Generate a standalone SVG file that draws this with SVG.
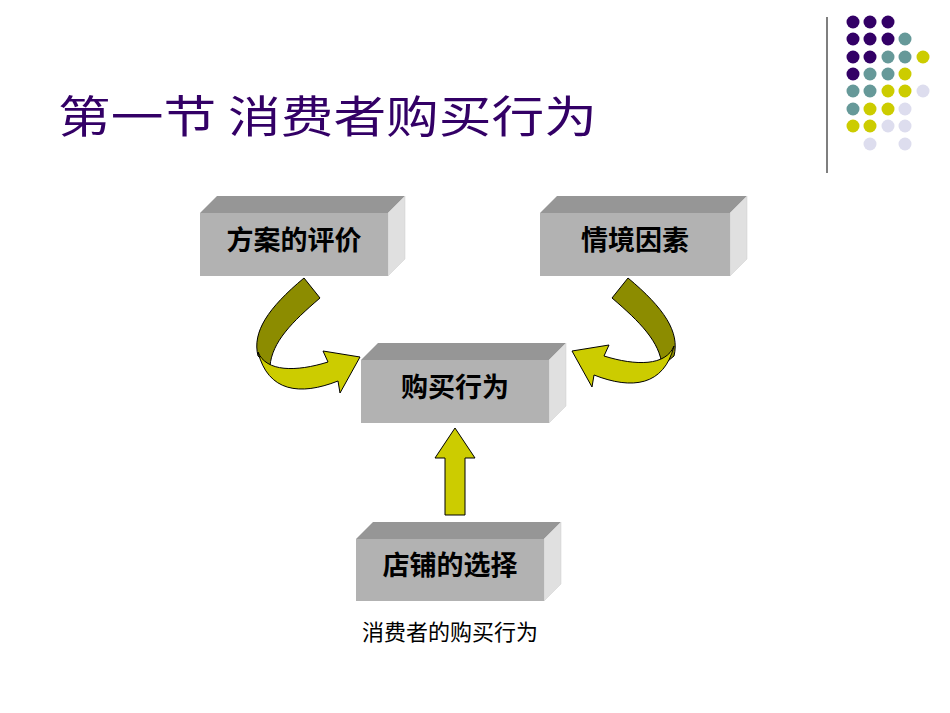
<svg xmlns="http://www.w3.org/2000/svg" width="950" height="713" viewBox="0 0 950 713">
<style>
.f{fill:#b2b2b2}.t{fill:#969696}.s{fill:#e0e0e0;stroke:#ccc;stroke-width:.5}
.lb{font-family:"Noto Sans CJK SC",sans-serif;font-weight:bold;font-size:27px;fill:#000;text-anchor:middle}
.P{fill:#330066}.T{fill:#669999}.Y{fill:#cccc00}.L{fill:#ddddee}
.ol{fill:#8c8c00;stroke:#000;stroke-width:1}.ye{fill:#cccc00;stroke:#000;stroke-width:1}
</style>
<rect width="950" height="713" fill="#fff"/>
<line x1="827" y1="17" x2="827" y2="173" stroke="#555" stroke-width="1.5"/>
<g id="dots">
<circle class="P" cx="853" cy="22" r="6.5"/><circle class="P" cx="870" cy="22" r="6.5"/><circle class="P" cx="888" cy="22" r="6.5"/>
<circle class="P" cx="853" cy="39" r="6.5"/><circle class="P" cx="870" cy="39" r="6.5"/><circle class="P" cx="888" cy="39" r="6.5"/><circle class="T" cx="905" cy="39" r="6.5"/>
<circle class="P" cx="853" cy="57" r="6.5"/><circle class="P" cx="870" cy="57" r="6.5"/><circle class="T" cx="888" cy="57" r="6.5"/><circle class="T" cx="905" cy="57" r="6.5"/><circle class="Y" cx="923" cy="57" r="6.5"/>
<circle class="P" cx="853" cy="74" r="6.5"/><circle class="T" cx="870" cy="74" r="6.5"/><circle class="T" cx="888" cy="74" r="6.5"/><circle class="Y" cx="905" cy="74" r="6.5"/>
<circle class="T" cx="853" cy="91" r="6.5"/><circle class="T" cx="870" cy="91" r="6.5"/><circle class="Y" cx="888" cy="91" r="6.5"/><circle class="Y" cx="905" cy="91" r="6.5"/><circle class="L" cx="923" cy="91" r="6.5"/>
<circle class="T" cx="853" cy="109" r="6.5"/><circle class="Y" cx="870" cy="109" r="6.5"/><circle class="Y" cx="888" cy="109" r="6.5"/><circle class="L" cx="905" cy="109" r="6.5"/>
<circle class="Y" cx="853" cy="126" r="6.5"/><circle class="Y" cx="870" cy="126" r="6.5"/><circle class="L" cx="888" cy="126" r="6.5"/><circle class="L" cx="905" cy="126" r="6.5"/>
<circle class="L" cx="870" cy="144" r="6.5"/><circle class="L" cx="905" cy="144" r="6.5"/>
</g>
<text x="58" y="133" font-family="'Noto Sans CJK SC',sans-serif" font-size="44" fill="#330066" textLength="539" lengthAdjust="spacingAndGlyphs">第一节  消费者购买行为</text>
<g id="connectors">
<g id="arrowL">
<path class="ol" d="M304,278 L320,298 C292,322 272,342 270,366 L258,356 C252,332 268,308 304,278 Z"/>
<path class="ye" d="M258,352 C266,372 296,372 328,362 L323,351 L360,357 L340,393 L338,381 C300,396 268,392 258,352 Z"/>
</g>
<g id="arrowR" transform="translate(932,0) scale(-1,1) translate(0,-6)">
<path class="ol" d="M304,278 L320,298 C292,322 272,342 270,366 L258,356 C252,332 268,308 304,278 Z" transform="translate(0,6)"/>
<path class="ye" d="M258,352 C266,372 296,372 328,362 L323,351 L360,357 L340,393 L338,381 C300,396 268,392 258,352 Z"/>
</g>
<path id="arrowU" class="ye" d="M445,515 L445,458 L435,458 L455,428 L475,458 L465,458 L465,515 Z"/>
</g>
<g id="n1"><polygon class="t" points="200,213 217,196 405,196 388,213"/><polygon class="s" points="388,213 405,196 405,259 388,276"/><rect class="f" x="200" y="213" width="188" height="63"/><text class="lb" x="294" y="250">方案的评价</text></g>
<g id="n2"><polygon class="t" points="540,213 557,196 747,196 730,213"/><polygon class="s" points="730,213 747,196 747,259 730,276"/><rect class="f" x="540" y="213" width="190" height="63"/><text class="lb" x="635" y="250">情境因素</text></g>
<g id="n3"><polygon class="t" points="361,360 378,343 566,343 549,360"/><polygon class="s" points="549,360 566,343 566,406 549,423"/><rect class="f" x="361" y="360" width="188" height="63"/><text class="lb" x="455" y="397">购买行为</text></g>
<g id="n4"><polygon class="t" points="356,539 373,522 561,522 544,539"/><polygon class="s" points="544,539 561,522 561,584 544,601"/><rect class="f" x="356" y="539" width="188" height="62"/><text class="lb" x="450" y="575">店铺的选择</text></g>
<text x="450" y="640" font-family="'Noto Sans CJK SC',sans-serif" font-size="22" text-anchor="middle" fill="#000">消费者的购买行为</text>
</svg>
